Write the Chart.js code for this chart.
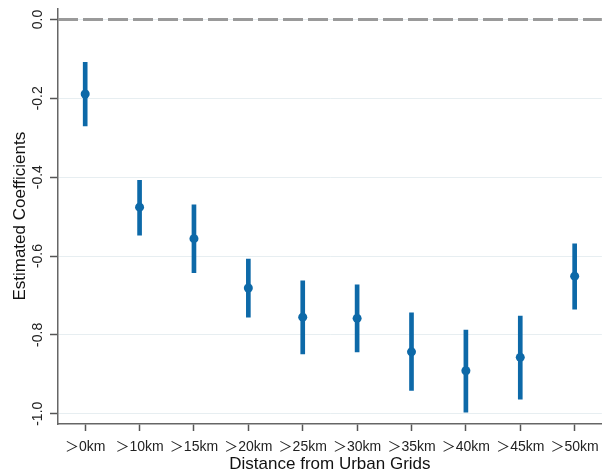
<!DOCTYPE html>
<html>
<head>
<meta charset="utf-8">
<script src="https://cdn.jsdelivr.net/npm/chart.js@4"></script>
<style>
  html, body { margin: 0; padding: 0; background: #fff; }
  #wrap { width: 607px; height: 476px; }
</style>
</head>
<body>
<div id="wrap"><canvas id="c" width="607" height="476"></canvas></div>
<script>
const categories = ['＞0km', '＞10km', '＞15km', '＞20km', '＞25km', '＞30km', '＞35km', '＞40km', '＞45km', '＞50km'];
const estimates = [-0.189, -0.476, -0.556, -0.681, -0.755, -0.758, -0.843, -0.891, -0.857, -0.651];
const ciLower   = [-0.270, -0.547, -0.642, -0.755, -0.848, -0.843, -0.941, -0.996, -0.963, -0.735];
const ciUpper   = [-0.109, -0.408, -0.470, -0.608, -0.663, -0.673, -0.744, -0.788, -0.752, -0.569];
const yTickValues = [0, -0.2, -0.4, -0.6, -0.8, -1.0];

const BLUE = '#0d69a8';
const FONT = "'Liberation Sans', Arial, 'Noto Sans CJK SC', sans-serif";

const zeroLine = {
  id: 'zeroLine',
  beforeDatasetsDraw(chart) {
    const {ctx, chartArea, scales} = chart;
    const y = scales.y.getPixelForValue(0);
    ctx.save();
    ctx.strokeStyle = '#9a9a9a';
    ctx.lineWidth = 3;
    ctx.setLineDash([20, 5]);
    ctx.beginPath();
    ctx.moveTo(chartArea.left, y);
    ctx.lineTo(chartArea.right, y);
    ctx.stroke();
    ctx.restore();
  }
};

new Chart(document.getElementById('c'), {
  type: 'bar',
  data: {
    labels: categories,
    datasets: [
      {
        type: 'line',
        data: estimates,
        showLine: false,
        pointRadius: 4.5,
        pointHoverRadius: 4.5,
        pointBackgroundColor: BLUE,
        pointBorderColor: BLUE,
        pointBorderWidth: 0,
        order: 0
      },
      {
        type: 'bar',
        data: categories.map((c, i) => [ciLower[i], ciUpper[i]]),
        backgroundColor: BLUE,
        borderWidth: 0,
        barThickness: 4,
        order: 1
      }
    ]
  },
  options: {
    responsive: false,
    animation: false,
    devicePixelRatio: 1,
    layout: { padding: { top: 6, right: 4, bottom: 0, left: 0 } },
    plugins: { legend: { display: false }, tooltip: { enabled: false } },
    scales: {
      x: {
        offset: true,
        grid: { display: true, drawOnChartArea: false, offset: false, tickLength: 7, tickColor: '#555', tickWidth: 1.5 },
        border: { display: true, color: '#666', width: 1.5 },
        ticks: { color: '#222', font: { family: FONT, size: 14 }, padding: 8, maxRotation: 0, autoSkip: false },
        title: { display: true, text: 'Distance from Urban Grids', color: '#111', font: { family: FONT, size: 17 }, padding: { top: 0, bottom: 1 } },
        afterFit(scale) { scale.height = 52; }
      },
      y: {
        min: -1.026,
        max: 0.028,
        afterBuildTicks(scale) { scale.ticks = yTickValues.map(v => ({ value: v })); },
        grid: { color: '#e7eef1', lineWidth: 1, tickLength: 8, tickColor: '#555', tickWidth: 1.5 },
        border: { display: true, color: '#666', width: 1.5 },
        ticks: {
          color: '#222', font: { family: FONT, size: 14 }, padding: 0,
          minRotation: 90, maxRotation: 90, crossAlign: 'center',
          callback: (v) => Number(v).toFixed(1)
        },
        title: { display: true, text: 'Estimated Coefficients', color: '#111', font: { family: FONT, size: 17 }, padding: { top: 10, bottom: 0 } },
        afterFit(scale) { scale.width = 58; }
      }
    }
  },
  plugins: [zeroLine]
});
</script>
</body>
</html>
